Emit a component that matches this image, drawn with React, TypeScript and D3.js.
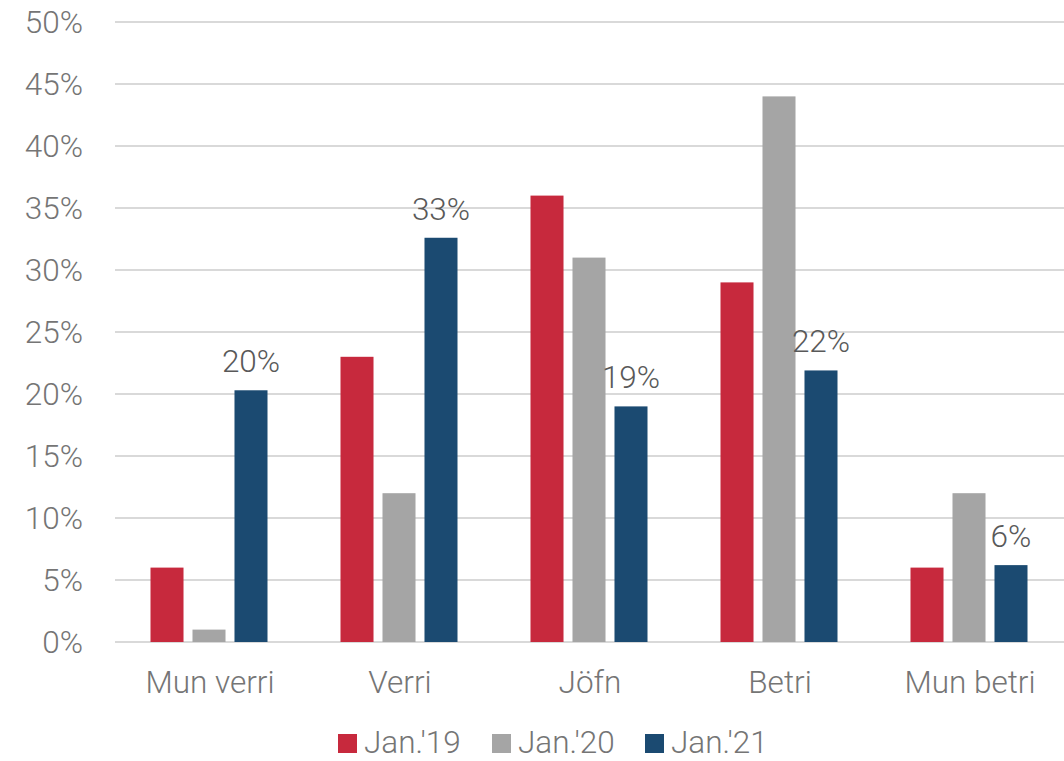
import React from "react";
import * as d3 from "d3";

const categories = ["Mun verri", "Verri", "Jöfn", "Betri", "Mun betri"];
const seriesNames = ["Jan.'19", "Jan.'20", "Jan.'21"];
const jan19 = [6, 23, 36, 29, 6];
const jan20 = [1, 12, 31, 44, 12];
const jan21 = [20.3, 32.6, 19, 21.9, 6.2];
const labels21 = ["20%", "33%", "19%", "22%", "6%"];
const yTicks = [0, 5, 10, 15, 20, 25, 30, 35, 40, 45, 50];
const colors = ["#C7293D", "#A5A5A5", "#1B4A71"];

export default function App() {
  const W = 1064, H = 761;
  const left = 115, right = 1065, top = 22, bottom = 642;
  const x = d3.scaleBand<string>().domain(categories).range([left, right]).paddingInner(0).paddingOuter(0);
  const y = d3.scaleLinear().domain([0, 50]).range([bottom, top]);
  const groupW = 117;
  const inner = d3.scaleBand<string>().domain(seriesNames).range([0, groupW]).paddingInner(0.214).paddingOuter(0);
  const series = [jan19, jan20, jan21];
  const font = "Roboto, 'Liberation Sans', Arial, sans-serif";
  const axisColor = "#757575";
  const legendX = [338, 492, 645];
  const fs = 31.5;
  return (
    <svg width={W} height={H} style={{ position: "absolute", left: 0, top: 0 }} fontFamily={font} fontWeight={300}>
      <rect width={W} height={H} fill="#fff" />
      {yTicks.map((t) => (
        <g key={t}>
          <line x1={left} x2={right} y1={y(t)} y2={y(t)} stroke="#D9D9D9" strokeWidth={2} />
          <text x={83} y={y(t)} dy="0.36em" textAnchor="end" fontSize={fs} fill={axisColor}>{t}%</text>
        </g>
      ))}
      {categories.map((c, ci) => {
        const gx = x(c)! + x.bandwidth() / 2 - groupW / 2 - 1;
        return (
          <g key={c}>
            {series.map((s, si) => (
              <rect key={si} x={gx + inner(seriesNames[si])!} y={y(s[ci])} width={inner.bandwidth()} height={bottom - y(s[ci])} fill={colors[si]} />
            ))}
            <text x={gx + inner(seriesNames[2])! + inner.bandwidth() / 2} y={y(jan21[ci]) - 18} textAnchor="middle" fontSize={fs} fill="#595959">{labels21[ci]}</text>
            <text x={x(c)! + x.bandwidth() / 2} y={693} textAnchor="middle" fontSize={fs} fill={axisColor}>{c}</text>
          </g>
        );
      })}
      {seriesNames.map((n, i) => (
        <g key={n}>
          <rect x={legendX[i]} y={734} width={19} height={19} fill={colors[i]} />
          <text x={legendX[i] + 26} y={753} fontSize={fs} fill={axisColor}>{n}</text>
        </g>
      ))}
    </svg>
  );
}
